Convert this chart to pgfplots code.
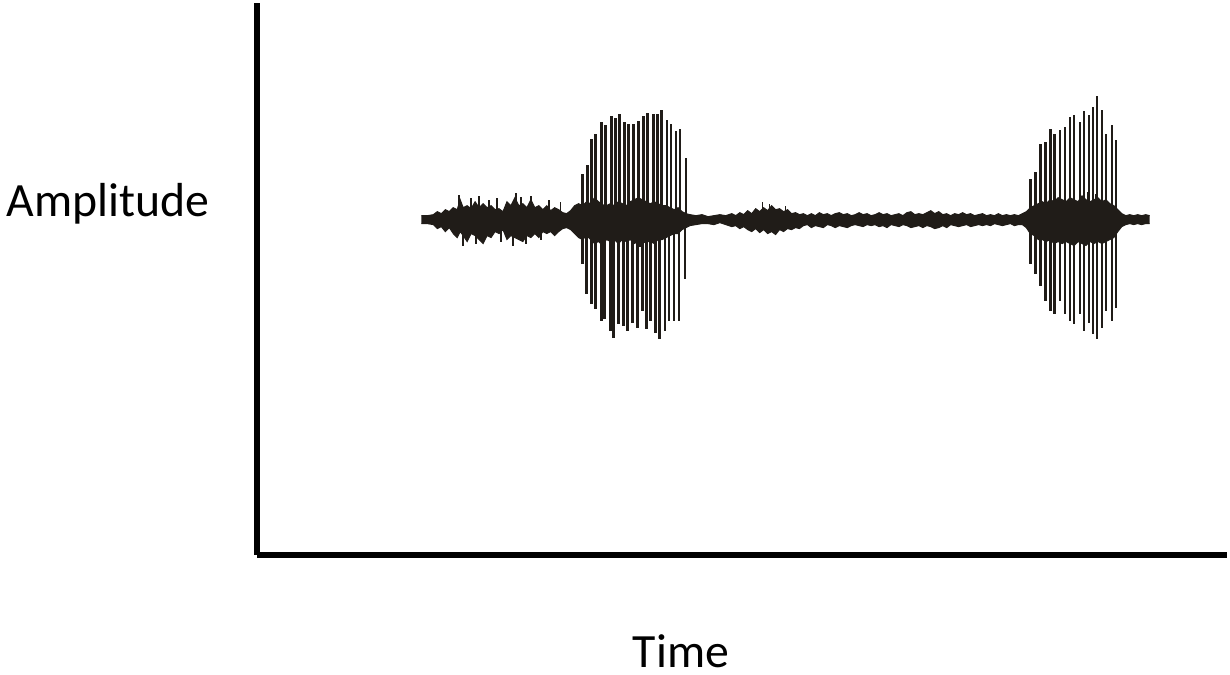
\documentclass[border=0pt]{standalone}
\usepackage{pgfplots}
\pgfplotsset{compat=1.18}
\usepackage{pgfplotstable}
\usepgfplotslibrary{fillbetween}
\usepackage{fontspec}
\setmainfont{Carlito}
\definecolor{wave}{RGB}{32,28,24}

% noise envelope: x (px), upper, lower (amplitude, px units)
\pgfplotstableread{
x up lo
420 4 -4
426 4 -4
432 5 -5
436 8 -9
440 6 -7
444 10 -12
448 8 -8
452 12 -14
456 10 -18
459 20 -12
462 12 -16
466 14 -22
470 11 -14
474 18 -16
478 12 -20
482 16 -24
486 12 -16
490 14 -18
494 10 -12
498 11 -14
502 8 -10
506 18 -20
510 14 -16
514 22 -18
518 14 -20
522 16 -22
526 12 -16
530 20 -18
534 12 -14
538 14 -18
542 10 -12
546 14 -14
550 9 -12
554 12 -16
558 10 -12
562 7 -9
566 6 -8
570 9 -10
574 14 -14
578 16 -18
582 14 -20
586 18 -16
590 16 -20
594 22 -24
598 18 -22
602 15 -26
606 14 -20
610 16 -22
614 14 -20
618 18 -24
622 16 -20
626 14 -22
630 18 -20
634 20 -24
638 22 -22
642 20 -24
646 18 -22
650 16 -22
654 18 -24
658 16 -20
662 14 -20
666 14 -18
670 12 -16
674 10 -14
678 12 -14
682 8 -10
686 6 -8
690 5 -6
696 4 -5
702 5 -4
708 3 -4
714 4 -5
720 5 -3
726 4 -5
732 6 -7
736 4 -6
740 7 -9
744 5 -7
748 9 -10
752 6 -12
756 11 -9
760 8 -13
764 12 -10
768 9 -14
772 14 -12
776 10 -15
780 11 -10
784 8 -12
788 10 -9
792 6 -10
796 7 -8
800 5 -9
804 6 -6
808 4 -5
812 6 -8
816 4 -6
820 7 -7
824 5 -8
828 6 -5
832 4 -6
836 6 -8
840 7 -6
844 5 -7
848 6 -8
852 4 -6
856 5 -5
860 7 -6
864 5 -7
868 6 -5
872 4 -6
876 5 -5
880 7 -7
884 5 -6
888 6 -8
892 4 -5
896 5 -6
900 6 -7
904 4 -5
908 7 -6
912 8 -8
916 5 -7
920 6 -6
924 5 -8
928 7 -6
932 9 -7
936 6 -9
940 8 -8
944 5 -6
948 6 -8
952 4 -5
956 6 -6
960 5 -7
964 7 -6
968 5 -5
972 6 -7
976 4 -6
980 5 -5
984 6 -6
988 4 -5
992 5 -6
996 4 -4
1000 6 -5
1004 4 -6
1008 5 -5
1012 4 -4
1016 5 -6
1020 4 -5
1024 6 -5
1028 8 -8
1032 12 -14
1036 14 -16
1040 16 -20
1044 18 -20
1048 16 -22
1052 20 -20
1056 18 -24
1060 22 -22
1064 20 -24
1068 18 -22
1072 22 -24
1076 20 -26
1080 18 -22
1084 24 -24
1088 20 -26
1092 18 -22
1096 20 -24
1100 22 -22
1104 18 -24
1108 20 -22
1112 16 -20
1116 14 -18
1120 10 -12
1124 6 -7
1128 4 -5
1132 5 -4
1136 4 -5
1140 5 -4
1144 4 -5
1148 5 -4
1152 4 -4
}\envtab

% large voiced spikes, upper halves: x, top
\pgfplotstableread{
x top
582 46
587 55
591 81
595 86
601 98
605 95
611 104
615 102
619 106
624 98
628 96
633 96
638 99
643 104
647 107
653 106
657 106
661 110
667 100
671 96
676 89
680 91
686 62
1032 41
1037 48
1042 76
1047 78
1052 91
1056 86
1062 90
1067 93
1072 103
1076 105
1082 98
1086 109
1091 105
1095 113
1099 124
1104 110
1108 86
1114 95
1118 80
}\spiketop

% large voiced spikes, lower halves: x, bottom
\pgfplotstableread{
x bot
582 -45
586 -75
591 -85
595 -90
601 -102
604 -100
610 -112
613 -119
618 -105
623 -107
627 -112
632 -104
637 -109
642 -92
646 -110
650 -102
655 -114
659 -120
665 -112
669 -102
674 -102
679 -102
685 -60
1032 -45
1037 -55
1042 -67
1047 -82
1052 -92
1056 -95
1062 -82
1067 -95
1072 -102
1076 -105
1082 -95
1086 -112
1091 -104
1095 -115
1099 -120
1104 -109
1108 -92
1114 -102
1118 -89
}\spikebot

% small noise spikes
\pgfplotstableread{
x y
458 25
470 22
478 24
488 20
496 22
515 27
520 23
530 24
548 20
560 18
763 18
770 16
786 14
462 -26
475 -24
500 -22
512 -26
525 -24
540 -20
600 -30
640 -28
1090 28
1098 26
}\smalltab

\begin{document}
\begin{tikzpicture}
\begin{axis}[
  at={(127.5pt,59pt)}, anchor=south west,
  scale only axis, width=487.5pt, height=277.5pt,
  xmin=255, xmax=1230, ymin=-337, ymax=218,
  axis x line=bottom, axis y line=left,
  axis line style={-, line width=2.75pt, black},
  xtick=\empty, ytick=\empty,
  clip=false,
]
\addplot[name path=up, draw=wave, line width=0.5pt] table[x=x, y=up] {\envtab};
\addplot[name path=lo, draw=wave, line width=0.5pt] table[x=x, y=lo] {\envtab};
\addplot[wave] fill between[of=up and lo];
\addplot[ycomb, draw=wave, line width=1.35pt, mark=none] table[x=x, y=top] {\spiketop};
\addplot[ycomb, draw=wave, line width=1.35pt, mark=none] table[x=x, y=bot] {\spikebot};
\addplot[ycomb, draw=wave, line width=0.8pt, mark=none] table[x=x, y=y] {\smalltab};
\node[anchor=base, font=\fontsize{24}{28}\selectfont] at (axis cs:105,3) {Amplitude};
\node[anchor=base, font=\fontsize{24}{28}\selectfont] at (axis cs:681,-450) {Time};
\end{axis}
\path (0pt,0pt) (615pt,336.5pt);
\end{tikzpicture}
\end{document}
